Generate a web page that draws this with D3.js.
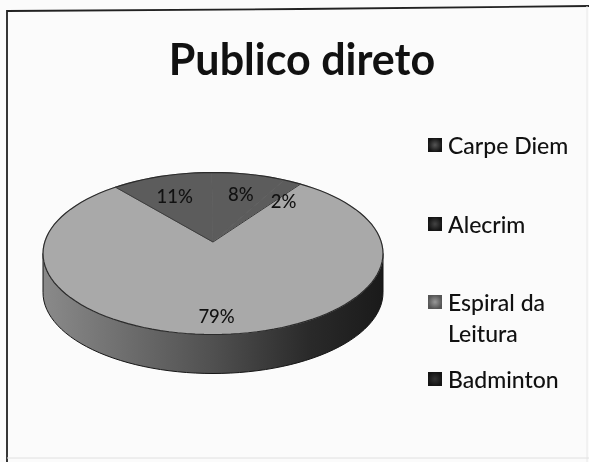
<!DOCTYPE html>
<html><head><meta charset="utf-8">
<script src="https://cdn.jsdelivr.net/npm/d3@7/dist/d3.min.js"></script>
<style>html,body{margin:0;padding:0;background:#fbfbfb;overflow:hidden}svg{display:block;filter:blur(0.6px)}text{font-family:Lato,"Open Sans",sans-serif;fill:#111}</style>
</head><body><svg id="c" width="589" height="462"></svg>
<script>
const titleText = "Publico direto";
const categories = ["Carpe Diem","Alecrim","Espiral da Leitura","Badminton"];
const shares = [8,2,79,11];
const legendLines = [["Carpe Diem"],["Alecrim"],["Espiral da","Leitura"],["Badminton"]];
const topColors = ["#5c5c5c","#5c5c5c","#a9a9a9","#5c5c5c"];
const swatchColors = ["#555","#444","#999","#333"];

const svg = d3.select("#c");
const rad = Math.PI/180;
const cx=213, rimY=253.5, apexY=242, rx=170, ry=81, depth=39;

const defs = svg.append("defs");
const sideGrad = defs.append("linearGradient").attr("id","side");
[[0,"#8a8a8a"],[.18,"#757575"],[.5,"#505050"],[.78,"#2a2a2a"],[1,"#1a1a1a"]].forEach(s=>sideGrad.append("stop").attr("offset",s[0]).attr("stop-color",s[1]));
swatchColors.forEach((c,i)=>{
  const g=defs.append("radialGradient").attr("id","sw"+i);
  g.append("stop").attr("offset",0).attr("stop-color",c);
  g.append("stop").attr("offset",1).attr("stop-color",i==2?"#555":"#141414");
});

// Pie layout, with the foreshortening of the tilted drawing applied to its angles
const pie = d3.pie().value(d=>d).sort(null).startAngle(-9.0*rad).endAngle(351*rad);
const arcs = pie(shares);
const warp = d3.scaleLinear().domain([-37.8*rad,37.8*rad,322.2*rad]).range([-35*rad,31*rad,325*rad]);
const norm = a=> a>322.2*rad ? a-2*Math.PI : a;
const rim = a=>{const t=warp(norm(a));return [cx+rx*Math.sin(t),rimY-ry*Math.cos(t)];};
const line = d3.line();

// rotate so Espiral is centred on the front of the pie
const offset = Math.PI - (arcs[2].startAngle+arcs[2].endAngle)/2;
const slices = arcs.map(d=>({start:d.startAngle+offset,end:d.endAngle+offset,value:d.value}));

// frame
svg.append("path").attr("d",line([[7,462],[7,11],[300,9],[589,6]])).attr("fill","none").attr("stroke","#222").attr("stroke-width",1.8);
svg.append("path").attr("d",line([[587,6],[587,462]])).attr("fill","none").attr("stroke","#e8e8e8").attr("stroke-width",1);
svg.append("path").attr("d",line([[7,458],[589,458]])).attr("fill","none").attr("stroke","#e0e0e0").attr("stroke-width",1);

// side wall
const sideAngles = d3.range(90,271,3).map(d=>d*rad);
const front = sideAngles.map(t=>[cx+rx*Math.sin(t),rimY-ry*Math.cos(t)]);
const back = front.map(p=>[p[0],p[1]+depth]).reverse();
svg.append("path").attr("d",line(front.concat(back))+"Z").attr("fill","url(#side)").attr("stroke","#151515").attr("stroke-width",1);

// top face
slices.forEach((s,i)=>{
  const n=Math.max(2,Math.ceil((s.end-s.start)/(2*rad)));
  const pts=d3.range(n+1).map(k=>rim(s.start+(s.end-s.start)*k/n));
  svg.append("path").attr("d",line([[cx,apexY],...pts])+"Z").attr("fill",topColors[i]).attr("stroke",topColors[i]).attr("stroke-width",.8);
});
// rim shading
const rimPts=d3.range(0,361,3).map(d=>[cx+rx*Math.sin(d*rad),rimY-ry*Math.cos(d*rad)]);
svg.append("path").attr("d",line(rimPts)).attr("fill","none").attr("stroke","#2b2b2b").attr("stroke-width",1.2);
const edge=[rim(slices[3].start),[cx,apexY],rim(slices[1].end)];
svg.append("path").attr("d",line(edge)).attr("fill","none").attr("stroke","#3c3c3c").attr("stroke-width",1);

// data labels
const labelFactor=[.72,.8,.77,.72];
const labelNudge=[[2,1],[7,7],[-1,3],[-1,1]];
slices.forEach((s,i)=>{
  const p=rim((s.start+s.end)/2), f=labelFactor[i];
  svg.append("text").attr("x",cx+(p[0]-cx)*f+labelNudge[i][0]).attr("y",apexY+(p[1]-apexY)*f+labelNudge[i][1])
    .attr("text-anchor","middle").attr("dominant-baseline","central")
    .attr("font-size",18.5).attr("font-weight",500).text(d3.format(".0f")(s.value)+"%");
});

// title
svg.append("text").attr("x",302).attr("y",75).attr("text-anchor","middle")
  .attr("font-size",43).attr("font-weight",700).text(titleText);

// legend
const legendY=[145,224,302,379];
categories.forEach((c,i)=>{
  svg.append("rect").attr("x",428).attr("y",legendY[i]-7).attr("width",14).attr("height",14).attr("fill","url(#sw"+i+")");
  legendLines[i].forEach((t,j)=>{
    svg.append("text").attr("x",448).attr("y",legendY[i]+j*31).attr("dominant-baseline","central")
      .attr("font-size",23).attr("font-weight",500).text(t);
  });
});
</script>
</body></html>
